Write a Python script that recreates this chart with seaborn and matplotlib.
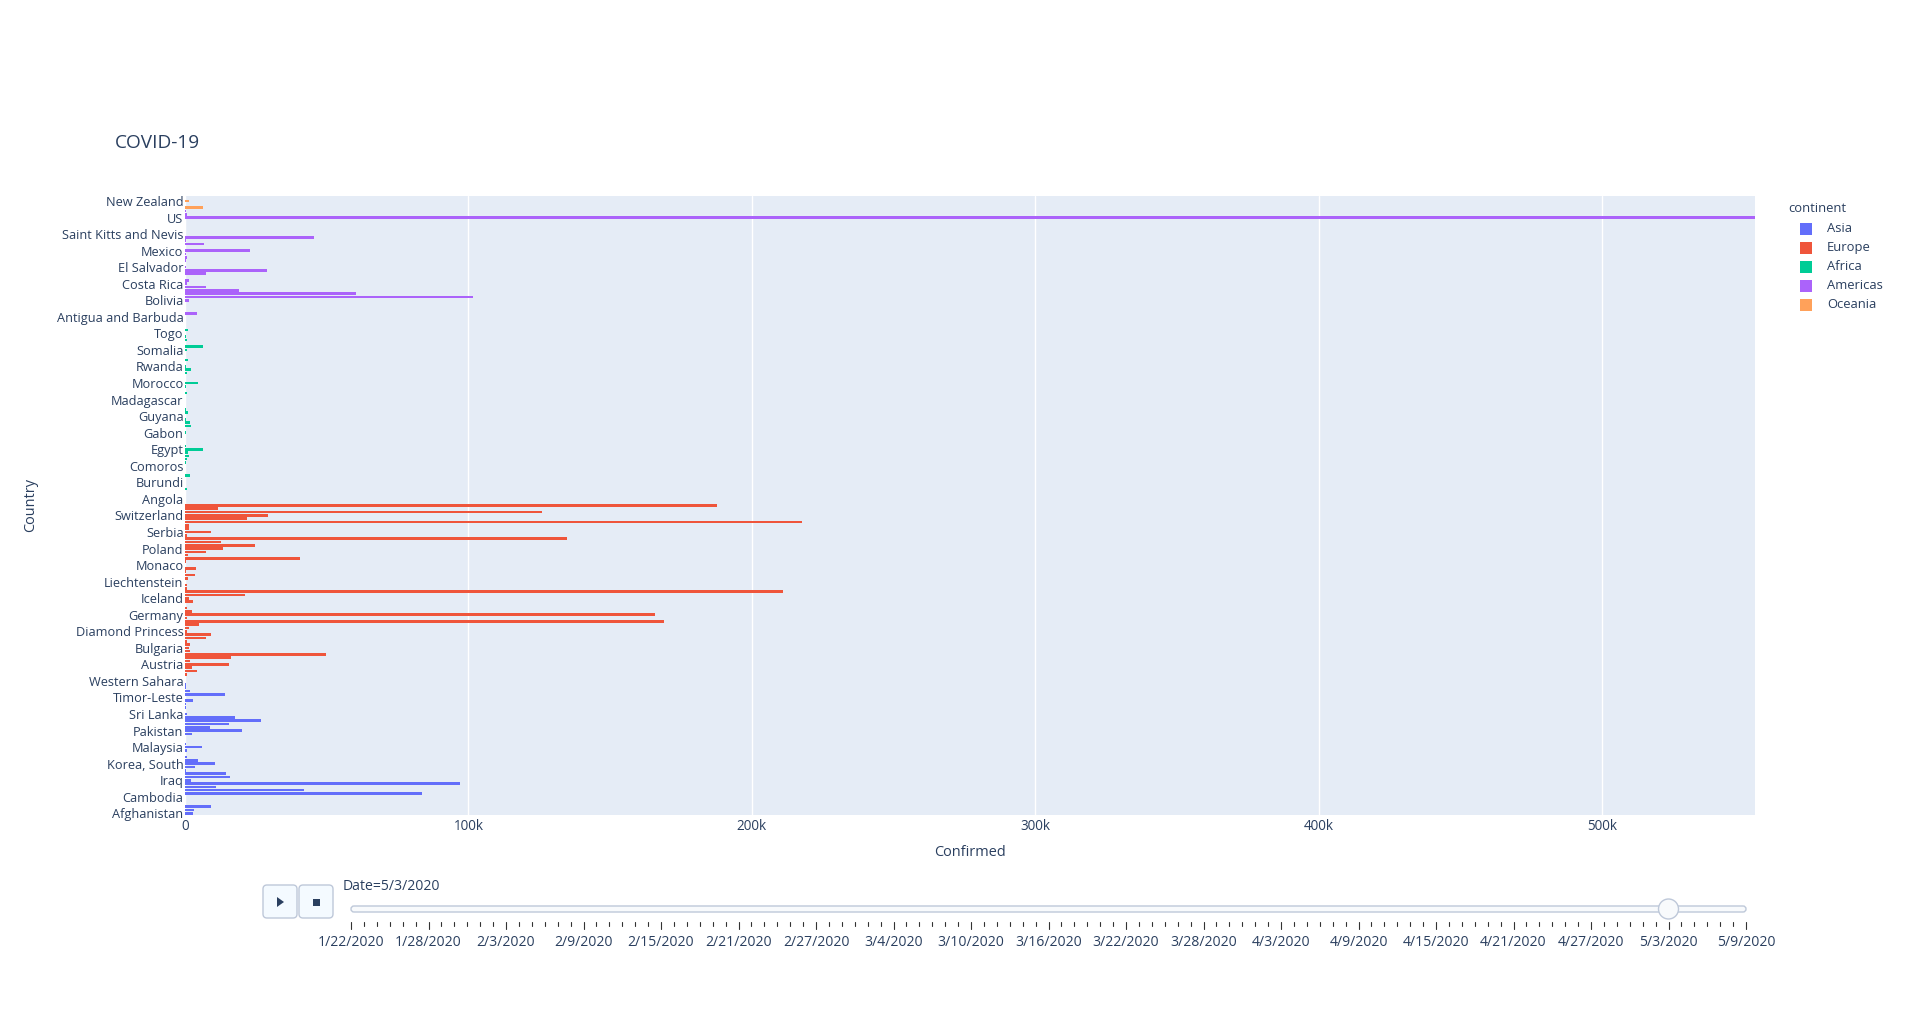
import numpy as np
import pandas as pd
import matplotlib
matplotlib.use("Agg")
import matplotlib.pyplot as plt
import seaborn as sns
from matplotlib.patches import FancyBboxPatch, Circle, Polygon, Rectangle

# ---------------- data (snapshot Date=5/3/2020) ----------------
asia_countries = ["Afghanistan", "Bahrain", "Bangladesh", "Bhutan", "Brunei", "Cambodia", "China", "India",
                  "Indonesia", "Iran", "Iraq", "Israel", "Japan", "Jordan", "Kazakhstan", "Korea, South",
                  "Kuwait", "Kyrgyzstan", "Laos", "Lebanon", "Malaysia", "Maldives", "Mongolia", "Nepal",
                  "Oman", "Pakistan", "Philippines", "Qatar", "Saudi Arabia", "Singapore", "Sri Lanka",
                  "Syria", "Taiwan*", "Tajikistan", "Thailand", "Timor-Leste", "United Arab Emirates",
                  "Uzbekistan", "Vietnam", "West Bank and Gaza", "Western Sahara", "Yemen"]
asia_confirmed = [2700, 3300, 9200, 7, 138, 122, 83500, 42000, 11000, 96900, 2000, 16000, 14600, 460, 3600,
                  10500, 4700, 800, 19, 740, 6000, 520, 40, 75, 2300, 20000, 8900, 15500, 26900, 17800, 700,
                  45, 430, 230, 2700, 24, 14000, 1900, 270, 350, 6, 10]

europe_countries = ["Albania", "Algeria", "Armenia", "Austria", "Azerbaijan", "Belarus", "Belgium",
                    "Bosnia and Herzegovina", "Bulgaria", "Croatia", "Cyprus", "Czechia", "Denmark",
                    "Diamond Princess", "Estonia", "Finland", "France", "Georgia", "Germany", "Greece",
                    "Andorra", "Holy See", "Hungary", "Iceland", "Ireland", "Italy", "Kosovo", "Latvia",
                    "Liechtenstein", "Lithuania", "Luxembourg", "Malta", "Moldova", "Monaco", "Montenegro",
                    "Netherlands", "North Macedonia", "Norway", "Poland", "Portugal", "Romania", "Russia",
                    "San Marino", "Serbia", "Slovakia", "Slovenia", "Spain", "Sweden", "Switzerland",
                    "Turkey", "Ukraine", "United Kingdom", "MS Zaandam"]
europe_confirmed = [780, 4200, 2300, 15400, 1800, 16400, 49700, 1600, 1500, 1900, 860, 7300, 9300, 712,
                    1500, 4900, 169000, 580, 165800, 2300, 750, 12, 2800, 1500, 21100, 210900, 860, 870,
                    82, 1100, 3600, 480, 3900, 95, 320, 40700, 1200, 7400, 13300, 24800, 12700, 134800,
                    600, 9000, 1400, 1400, 217700, 21900, 29400, 126000, 11600, 187700, 9]

africa_countries = ["Angola", "Benin", "Botswana", "Burkina Faso", "Burma", "Burundi", "Cabo Verde",
                    "Cameroon", "Central African Republic", "Chad", "Comoros", "Congo (Brazzaville)",
                    "Congo (Kinshasa)", "Cote d'Ivoire", "Djibouti", "Egypt", "Equatorial Guinea", "Eritrea",
                    "Eswatini", "Ethiopia", "Gabon", "Gambia", "Ghana", "Guinea", "Guinea-Bissau", "Guyana",
                    "Honduras", "Kenya", "Liberia", "Libya", "Madagascar", "Malawi", "Mali", "Mauritania",
                    "Mauritius", "Morocco", "Mozambique", "Namibia", "Niger", "Nigeria", "Rwanda",
                    "Sao Tome and Principe", "Senegal", "Seychelles", "Sierra Leone", "Somalia",
                    "South Africa", "South Sudan", "Sudan", "Tanzania", "Togo", "Tunisia", "Uganda",
                    "Zambia", "Zimbabwe"]
africa_confirmed = [35, 90, 23, 690, 160, 15, 170, 1700, 80, 110, 3, 230, 700, 1300, 1100, 6300, 300, 39,
                    100, 135, 280, 17, 2100, 1600, 200, 80, 1000, 430, 150, 60, 150, 37, 550, 8, 330, 4700,
                    80, 16, 740, 2200, 260, 16, 1200, 11, 160, 600, 6300, 46, 780, 480, 120, 1000, 89, 124, 34]

americas_countries = ["Antigua and Barbuda", "Argentina", "Bahamas", "Barbados", "Belize", "Bolivia", "Brazil",
                      "Canada", "Chile", "Colombia", "Costa Rica", "Cuba", "Dominica", "Dominican Republic",
                      "Ecuador", "El Salvador", "Grenada", "Guatemala", "Haiti", "Jamaica", "Mexico",
                      "Nicaragua", "Panama", "Paraguay", "Peru", "Saint Kitts and Nevis", "Saint Lucia",
                      "Saint Vincent and the Grenadines", "Suriname", "Trinidad and Tobago", "US",
                      "Uruguay", "Venezuela"]
americas_confirmed = [25, 4400, 85, 82, 18, 1300, 101600, 60300, 19200, 7300, 740, 1500, 16, 7500, 29100, 490,
                      21, 300, 700, 470, 23100, 16, 6600, 400, 45600, 15, 18, 17, 10, 116, 1160000, 630, 350]

oceania_countries = ["Australia", "Fiji", "New Zealand", "Papua New Guinea"]
oceania_confirmed = [6500, 18, 1400, 8]

continents = ["Asia", "Europe", "Africa", "Americas", "Oceania"]
palette = {"Asia": "#636EFA", "Europe": "#EF553B", "Africa": "#00CC96",
           "Americas": "#AB63FA", "Oceania": "#FFA15A"}

frame_dates = pd.date_range("2020-01-22", "2020-05-09", freq="D")
current_date = pd.Timestamp("2020-05-03")
x_max = 554000

df = pd.concat([
    pd.DataFrame({"Country": asia_countries, "Confirmed": asia_confirmed, "continent": "Asia"}),
    pd.DataFrame({"Country": europe_countries, "Confirmed": europe_confirmed, "continent": "Europe"}),
    pd.DataFrame({"Country": africa_countries, "Confirmed": africa_confirmed, "continent": "Africa"}),
    pd.DataFrame({"Country": americas_countries, "Confirmed": americas_confirmed, "continent": "Americas"}),
    pd.DataFrame({"Country": oceania_countries, "Confirmed": oceania_confirmed, "continent": "Oceania"}),
], ignore_index=True)
order = list(df["Country"])

# ---------------- style ----------------
sns.set_theme(style="white")
plt.rcParams["font.family"] = ["Open Sans", "DejaVu Sans"]
txt = "#2a3f5f"
px = 0.72  # points per pixel at dpi 100

W, H = 1920, 1030
fig = plt.figure(figsize=(W / 100, H / 100), dpi=100)
L, R, T, B = 185, 1755, 196, 815
ax = fig.add_axes([L / W, 1 - B / H, (R - L) / W, (B - T) / H])
ax.set_facecolor("#E5ECF6")

sns.barplot(data=df, x="Confirmed", y="Country", hue="continent", order=order,
            hue_order=continents, palette=palette, dodge=False, width=0.8,
            saturation=1, orient="h", ax=ax, legend=False, linewidth=0)

ax.set_ylim(-0.5, len(order) - 0.5)
ax.set_xlim(0, x_max)
ax.set_yticks(range(0, len(order), 5))
ax.set_yticklabels(order[::5], fontsize=12.7 * px, color=txt)
xt = np.arange(0, 600000, 100000)
ax.set_xticks(xt)
ax.set_xticklabels(["0"] + [f"{int(v/1000)}k" for v in xt[1:]], fontsize=13.5 * px, color=txt)
ax.tick_params(axis="both", length=0)
ax.tick_params(axis="y", pad=1)
ax.tick_params(axis="x", pad=3)
ax.grid(axis="x", color="white", linewidth=1)
ax.grid(axis="y", visible=False)
ax.set_axisbelow(True)
for s in ax.spines.values():
    s.set_visible(False)
ax.set_xlabel("Confirmed", fontsize=14.5 * px, color=txt, labelpad=8)
ax.set_ylabel("")
fig.text(31 / W, 1 - 505 / H, "Country", rotation=90, fontsize=14.5 * px, color=txt,
         ha="center", va="center")

fig.text(115 / W, 1 - 143 / H, "COVID-19", fontsize=19 * px, color=txt, ha="left", va="center")

# ---------------- overlay for legend and slider ----------------
ui = fig.add_axes([0, 0, 1, 1], facecolor="none")
ui.set_xlim(0, W)
ui.set_ylim(H, 0)
ui.axis("off")

# legend
ui.text(1788, 209, "continent", fontsize=13 * px, color=txt, ha="left", va="center")
for k, c in enumerate(continents):
    yc = 228.5 + k * 19
    ui.add_patch(Rectangle((1800, yc - 6), 12, 12, facecolor=palette[c], edgecolor="none"))
    ui.text(1827, yc, c, fontsize=13 * px, color=txt, ha="left", va="center")

# buttons
for bx in (263, 299):
    ui.add_patch(FancyBboxPatch((bx, 885), 34, 33, boxstyle="round,pad=0,rounding_size=4",
                                facecolor="#F4FAFF", edgecolor="#BEC8D9", linewidth=1))
ui.add_patch(Polygon([[277, 897], [277, 907], [284, 902]], closed=True, facecolor=txt, edgecolor="none"))
ui.add_patch(Rectangle((313, 898.5), 7, 7, facecolor=txt, edgecolor="none"))

# slider
x0s, x1s = 351, 1746
ui.add_patch(FancyBboxPatch((x0s, 906), x1s - x0s, 6, boxstyle="round,pad=0,rounding_size=3",
                            facecolor="#F8FAFC", edgecolor="#BEC8D9", linewidth=1))
n = len(frame_dates)
xs = x0s + np.arange(n) * (x1s - x0s) / (n - 1)
for i, xv in enumerate(xs):
    major = (i % 6 == 0)
    ui.plot([xv, xv], [922, 929 if major else 926], color="#333333", linewidth=0.8)
    if major:
        d = frame_dates[i]
        ui.text(xv, 943, f"{d.month}/{d.day}/{d.year}", fontsize=14 * px, color=txt,
                ha="center", va="center")
ci = list(frame_dates).index(current_date)
ui.add_patch(Circle((xs[ci], 909), 10, facecolor="#F8FAFC", edgecolor="#BEC8D9", linewidth=1, zorder=5))
ui.text(343, 886, f"Date={current_date.month}/{current_date.day}/{current_date.year}",
        fontsize=14 * px, color=txt, ha="left", va="center")

fig.savefig("out.png", dpi=100, facecolor="white")
